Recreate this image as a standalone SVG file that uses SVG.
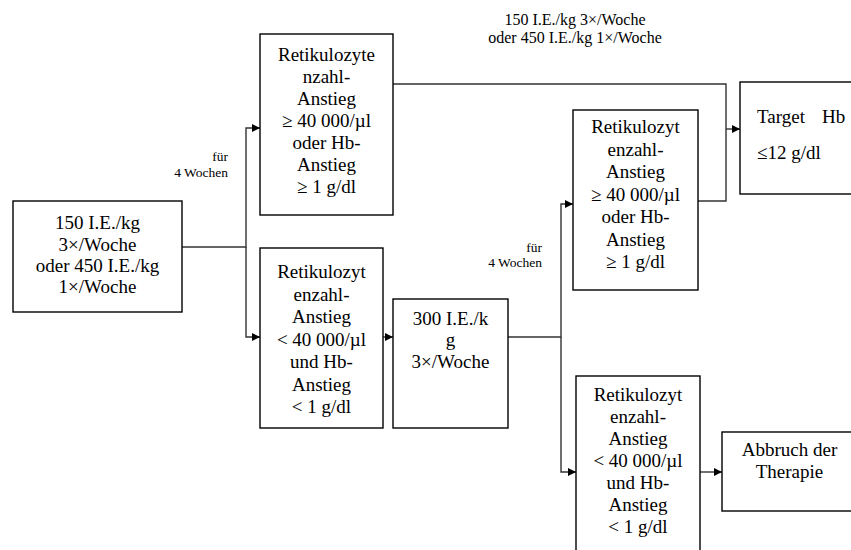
<svg xmlns="http://www.w3.org/2000/svg" width="851" height="550" viewBox="0 0 851 550">
<style>
  .box { fill: #fff; stroke: #000; stroke-width: 1.4; }
  .t { font-family: "Liberation Serif", "Times New Roman", serif; font-size: 19px; fill: #000; text-anchor: middle; }
  .tl { font-family: "Liberation Serif", "Times New Roman", serif; font-size: 19px; fill: #000; }
  .s { font-family: "Liberation Serif", "Times New Roman", serif; font-size: 13.5px; fill: #000; text-anchor: end; }
  .m { font-family: "Liberation Serif", "Times New Roman", serif; font-size: 16px; fill: #000; text-anchor: middle; }
  .c { fill: none; stroke: #333; stroke-width: 1.4; }
</style>
<defs>
  <marker id="arr" viewBox="0 0 10 10" refX="10" refY="5" markerWidth="8" markerHeight="8" markerUnits="userSpaceOnUse" orient="auto">
    <path d="M0,0 L10,5 L0,10 z" fill="#000"/>
  </marker>
</defs>
<rect width="851" height="550" fill="#fff"/>

<g id="connectors">
  <path class="c" d="M182,247 H246 V128 H260" marker-end="url(#arr)"/>
  <path class="c" d="M246,247 V337 H260" marker-end="url(#arr)"/>
  <path class="c" d="M383,337 H393" marker-end="url(#arr)"/>
  <path class="c" d="M508,337 H561 V204 H573" marker-end="url(#arr)"/>
  <path class="c" d="M561,337 V472 H576" marker-end="url(#arr)"/>
  <path class="c" d="M700,472 H722" marker-end="url(#arr)"/>
  <path class="c" d="M393,84 H726 V201 H698"/>
  <path class="c" d="M726,129 H740" marker-end="url(#arr)"/>
</g>

<g id="labels">
  <text class="s" x="228" y="161">für</text>
  <text class="s" x="228" y="177">4 Wochen</text>
  <text class="s" x="542" y="252">für</text>
  <text class="s" x="542" y="267">4 Wochen</text>
  <text class="m" x="575" y="25">150 I.E./kg 3×/Woche</text>
  <text class="m" x="575" y="43">oder 450 I.E./kg 1×/Woche</text>
</g>

<g id="start">
  <rect class="box" x="13" y="201" width="169" height="111"/>
  <text class="t" x="97.5" y="229">150 I.E./kg</text>
  <text class="t" x="97.5" y="250.5">3×/Woche</text>
  <text class="t" x="97.5" y="272">oder 450 I.E./kg</text>
  <text class="t" x="97.5" y="293">1×/Woche</text>
</g>

<g id="rise1">
  <rect class="box" x="260" y="34" width="133" height="181"/>
  <text class="t" x="326.5" y="61">Retikulozyte</text>
  <text class="t" x="326.5" y="83">nzahl-</text>
  <text class="t" x="326.5" y="105">Anstieg</text>
  <text class="t" x="326.5" y="127">≥ 40 000/µl</text>
  <text class="t" x="326.5" y="149">oder Hb-</text>
  <text class="t" x="326.5" y="171">Anstieg</text>
  <text class="t" x="326.5" y="193">≥ 1 g/dl</text>
</g>

<g id="norise1">
  <rect class="box" x="260" y="248" width="123" height="180"/>
  <text class="t" x="321.5" y="278">Retikulozyt</text>
  <text class="t" x="321.5" y="300.5">enzahl-</text>
  <text class="t" x="321.5" y="323">Anstieg</text>
  <text class="t" x="321.5" y="345.5">&lt; 40 000/µl</text>
  <text class="t" x="321.5" y="368">und Hb-</text>
  <text class="t" x="321.5" y="390.5">Anstieg</text>
  <text class="t" x="321.5" y="413">&lt; 1 g/dl</text>
</g>

<g id="dose300">
  <rect class="box" x="393" y="299" width="115" height="129"/>
  <text class="t" x="450.5" y="325">300 I.E./k</text>
  <text class="t" x="450.5" y="346">g</text>
  <text class="t" x="450.5" y="368">3×/Woche</text>
</g>

<g id="rise2">
  <rect class="box" x="573" y="110" width="125" height="180"/>
  <text class="t" x="635.5" y="133">Retikulozyt</text>
  <text class="t" x="635.5" y="155.5">enzahl-</text>
  <text class="t" x="635.5" y="178">Anstieg</text>
  <text class="t" x="635.5" y="200.5">≥ 40 000/µl</text>
  <text class="t" x="635.5" y="223">oder Hb-</text>
  <text class="t" x="635.5" y="245.5">Anstieg</text>
  <text class="t" x="635.5" y="268">≥ 1 g/dl</text>
</g>

<g id="norise2">
  <rect class="box" x="576" y="376" width="124" height="190"/>
  <text class="t" x="638" y="401">Retikulozyt</text>
  <text class="t" x="638" y="423">enzahl-</text>
  <text class="t" x="638" y="445">Anstieg</text>
  <text class="t" x="638" y="467">&lt; 40 000/µl</text>
  <text class="t" x="638" y="489">und Hb-</text>
  <text class="t" x="638" y="511">Anstieg</text>
  <text class="t" x="638" y="533">&lt; 1 g/dl</text>
</g>

<g id="stop">
  <rect class="box" x="722" y="432" width="140" height="79"/>
  <text class="t" x="789.5" y="456">Abbruch der</text>
  <text class="t" x="789.5" y="478">Therapie</text>
</g>

<g id="target">
  <rect class="box" x="740" y="82" width="125" height="112"/>
  <text class="tl" x="757" y="123">Target<tspan x="822">Hb</tspan></text>
  <text class="tl" x="757" y="159">≤12 g/dl</text>
</g>
</svg>
